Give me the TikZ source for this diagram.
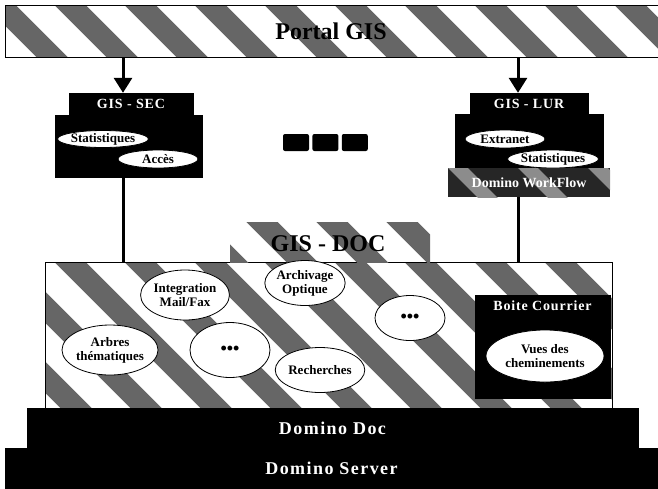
\documentclass[tikz,border=0pt]{standalone}
\usepackage{fontspec}
\setmainfont{Liberation Serif}
\usetikzlibrary{arrows.meta,shapes.geometric,positioning}

\tikzset{
  blackbox/.style={fill=black,draw=black,inner sep=0pt},
  bubble/.style={ellipse,draw=black,line width=0.8pt,fill=white,inner sep=0pt,
    font=\bfseries\fontsize{13}{14}\selectfont,align=center},
  whitelbl/.style={text=white,font=\bfseries\fontsize{14}{15}\selectfont\addfontfeature{LetterSpace=6}},
  baselbl/.style={text=white,font=\bfseries\fontsize{18}{20}\selectfont\addfontfeature{LetterSpace=8}},
  link/.style={line width=3pt},
  stripes/.style={line width=22pt,black!60},
  dotbox/.style={fill=black,rounded corners=2pt,minimum width=26pt,minimum height=17pt,inner sep=0pt}
}

\newcommand{\bigdots}{{\fontsize{18}{18}\selectfont\textbullet\textbullet\textbullet}}

% textured (grainy) rectangle
\newcommand{\grainbox}[4]{%
  \begin{scope}
    \clip (#1,#2) rectangle (#3,#4);
    \fill[white] (#1,#2) rectangle (#3,#4);
    \foreach \s in {-240,-170,...,720}
      \draw[stripes] (\s,#2-30) -- ++(#4-#2+60,#4-#2+60);
  \end{scope}
  \draw[black,line width=0.8pt] (#1,#2) rectangle (#3,#4);}

\begin{document}
\begin{tikzpicture}[x=1pt,y=-1pt]
  \useasboundingbox (0,0) rectangle (658,488);

  % portal
  \grainbox{5}{5}{658}{57}
  \node[font=\bfseries\fontsize{24}{26}\selectfont] (portal) at (331,31) {Portal GIS};

  % GIS - SEC
  \node[blackbox,whitelbl,minimum width=124pt,minimum height=22pt] (sectab) at (131,104) {GIS - SEC};
  \node[blackbox,minimum width=147pt,minimum height=62pt] (sec) at (128.5,146) {};
  \node[bubble,minimum width=80pt,minimum height=17pt] (secstat) at (103,139) {Statistiques};
  \node[bubble,minimum width=80pt,minimum height=18pt] (secacces) at (158,159) {Accès};

  % GIS - LUR
  \node[blackbox,whitelbl,minimum width=118pt,minimum height=22pt] (lurtab) at (529,104) {GIS - LUR};
  \node[blackbox,minimum width=148pt,minimum height=56pt] (lur) at (529,142) {};
  \node[bubble,minimum width=80pt,minimum height=18pt] (lurextra) at (505,139) {Extranet};
  \node[bubble,minimum width=80pt,minimum height=18pt] (lurstat) at (553,159) {Statistiques};
  \fill[black!85] (448,168) rectangle (610,197);
  \begin{scope}
    \clip (448,168) rectangle (610,197);
    \foreach \s in {380,450,...,620}
      \draw[line width=14pt,black!45] (\s,160) -- ++(45,45);
  \end{scope}
  \node[text=white,font=\bfseries\fontsize{14}{15}\selectfont] (workflow) at (529,182.5) {Domino WorkFlow};

  % middle dots
  \node[dotbox] (dotA) at (296,142.5) {};
  \node[dotbox,right=3pt of dotA] (dotB) {};
  \node[dotbox,right=3pt of dotB] (dotC) {};

  % GIS - DOC
  \grainbox{45}{262}{612}{408}
  \begin{scope}
    \clip (230,222) rectangle (430,262);
    \foreach \s in {170,240,...,450}
      \draw[stripes] (\s,200) -- ++(80,80);
  \end{scope}
  \node[font=\bfseries\fontsize{24}{26}\selectfont] (doc) at (328,244) {GIS - DOC};

  \node[bubble,minimum width=80pt,minimum height=50pt] (mail) at (185,295) {Integration\\Mail/Fax};
  \node[bubble,minimum width=80pt,minimum height=45pt] (archiv) at (305,283) {Archivage\\Optique};
  \node[bubble,minimum width=70pt,minimum height=45pt] (etcA) at (410,318) {\bigdots};
  \node[bubble,minimum width=82pt,minimum height=50pt] (arbres) at (110,350) {Arbres\\thématiques};
  \node[bubble,minimum width=80pt,minimum height=55pt] (etcB) at (230,350) {\bigdots};
  \node[bubble,minimum width=80pt,minimum height=45pt] (recherche) at (320,370) {Recherches};

  \node[blackbox,minimum width=135pt,minimum height=103pt] (boite) at (542.5,346.5) {};
  \node[whitelbl,below=2pt of boite.north] (boitelbl) {Boite Courrier};
  \node[bubble,minimum width=118pt,minimum height=52pt] (vues) at (545,356) {Vues des\\cheminements};

  % domino layers
  \node[blackbox,baselbl,minimum width=611pt,minimum height=40pt] (dominodoc) at (332.5,428) {Domino Doc};
  \node[blackbox,baselbl,minimum width=653pt,minimum height=40pt] (server) at (331.5,468) {Domino Server};

  % connectors
  \coordinate (secin) at (123,57);
  \coordinate (lurin) at (518,57);
  \draw[link,-{Triangle[width=18pt,length=15pt]}] (secin) -- (secin |- sectab.north);
  \draw[link,-{Triangle[width=18pt,length=15pt]}] (lurin) -- (lurin |- lurtab.north);
  \draw[link] (secin |- sec.south) -- (secin |- 0,262);
  \draw[link] (lurin |- 0,197) -- (lurin |- 0,262);
\end{tikzpicture}
\end{document}
